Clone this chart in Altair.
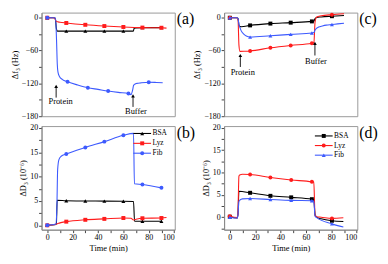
import altair as alt
import pandas as pd

FONT = "Liberation Serif"
SERIES = ["BSA", "Lyz", "Fib"]
COLORS = ["#000000", "#ff1c1c", "#3d5afe"]
SHAPES_AB = ["triangle-up", "square", "circle"]
SHAPES_CD = ["square", "circle", "triangle-up"]

# ---------- panel (a): delta f3 ----------
a_bsa_line_t = [0, 5, 6.3, 7.2, 8, 15, 30, 45, 60, 67.8, 68.6, 70, 75, 90]
a_bsa_line_v = [0, 0, -1, -20, -24.5, -24.5, -24.5, -24.5, -24.5, -24.5, -19, -18.5, -18, -18]
a_bsa_mark_t = [0, 15, 30, 45, 60, 75, 90]
a_bsa_mark_v = [0, -24.5, -24.5, -24.5, -24.5, -18, -18]
a_lyz_line_t = [0, 5, 6.3, 7.3, 10, 15, 30, 45, 60, 75, 90, 94]
a_lyz_line_v = [0, 0, -3, -7, -8.2, -9.6, -12.9, -15.2, -16.9, -18, -18.3, -19]
a_lyz_mark_t = [0, 15, 30, 45, 60, 75, 90]
a_lyz_mark_v = [0, -9.6, -12.9, -15.2, -16.9, -18, -18.3]
a_fib_line_t = [0, 5, 6.5, 7.3, 7.9, 8.5, 9.5, 12, 16, 24, 32, 40, 48, 56, 64, 66, 67.3, 68, 69, 70.6, 74, 80, 86, 91]
a_fib_line_v = [0, 0, -1, -40, -85, -100, -107, -113, -117, -123, -128, -131, -134, -136.5, -138.4, -140.5, -132, -124, -121.5, -120, -119, -118, -118.3, -118.7]
a_fib_mark_t = [0, 16, 32, 48, 64, 80]
a_fib_mark_v = [0, -117, -128, -134, -138.4, -118]
a_ann_label = ["Protein", "Buffer"]
a_ann_t = [7, 67.6]
a_ann_tip = [-125.5, -143]
a_ann_base = [-146, -163]
a_ann_text_t = [10.5, 69.9]
a_ann_text_v = [-153, -170]

# ---------- panel (c): delta f3 ----------
c_bsa_line_t = [0, 5.5, 6.5, 7.3, 9, 16, 32, 48, 64.7, 66.3, 67.2, 68.5, 72, 80.5, 90]
c_bsa_line_v = [0, 0, -1, -15, -16.5, -14, -10.7, -9, -6.7, -6.2, -1.5, 0.5, 1.5, 2.8, 4]
c_bsa_mark_t = [0, 16, 32, 48, 64.7, 80.5]
c_bsa_mark_v = [0, -14, -10.7, -9, -6.7, 2.8]
c_lyz_line_t = [0, 5.5, 6.5, 7.2, 8, 12, 16, 32, 48, 64.7, 66.3, 67.2, 68.5, 72, 80.5, 90]
c_lyz_line_v = [0, 0, -5, -50, -61.5, -61.2, -60.7, -55, -50.6, -46.7, -45, -8, 1.5, 3.5, 5.6, 7.3]
c_lyz_mark_t = [0, 16, 32, 48, 64.7, 80.5]
c_lyz_mark_v = [0, -60.7, -55, -50.6, -46.7, 5.6]
c_fib_line_t = [0, 5.5, 6.5, 7.2, 8, 9, 11, 13, 16, 32, 48, 64.7, 66.3, 67.3, 68.5, 70, 73, 76, 80.5, 85, 90]
c_fib_line_v = [0, 0, -2, -12, -18, -24, -30, -33.5, -35.4, -33, -30.4, -28, -27, -22, -19, -17, -15, -13.5, -12.4, -11.2, -10]
c_fib_mark_t = [0, 16, 32, 48, 64.7, 80.5]
c_fib_mark_v = [0, -35.4, -33, -30.4, -28, -12.4]
c_ann_label = ["Protein", "Buffer"]
c_ann_t = [8.3, 67.1]
c_ann_tip = [-69, -46.7]
c_ann_base = [-90, -69]
c_ann_text_t = [10.2, 67.9]
c_ann_text_v = [-100, -78.8]

# ---------- panel (b): delta D3 ----------
b_bsa_line_t = [0, 6, 7.2, 7.8, 15, 30, 45, 60, 68, 68.8, 75, 90]
b_bsa_line_v = [0, 0.1, 0.3, 5.15, 5.05, 5.0, 4.97, 4.95, 4.9, 0.85, 0.85, 0.85]
b_bsa_mark_t = [0, 15, 30, 45, 60, 75, 90]
b_bsa_mark_v = [0, 5.05, 5.0, 4.97, 4.95, 0.85, 0.85]
b_lyz_line_t = [0, 6, 8, 10, 15, 30, 45, 60, 66, 68, 70, 75, 90, 94]
b_lyz_line_v = [0, 0.15, 0.3, 0.5, 0.75, 1.13, 1.32, 1.5, 1.45, 1.1, 1.25, 1.45, 1.5, 1.6]
b_lyz_mark_t = [0, 15, 30, 45, 60, 75, 90]
b_lyz_mark_v = [0, 0.75, 1.13, 1.32, 1.5, 1.45, 1.5]
b_fib_line_t = [0, 6.9, 7.6, 8.2, 9.2, 11, 15, 30, 45, 60, 68, 68.7, 75, 90]
b_fib_line_v = [0, 0.25, 4, 11.5, 13.5, 14.2, 14.65, 16, 17.2, 18.5, 18.9, 8.55, 8.4, 7.7]
b_fib_mark_t = [0, 15, 30, 45, 60, 75, 90]
b_fib_mark_v = [0, 14.65, 16, 17.2, 18.5, 8.4, 7.7]

# ---------- panel (d): delta D3 ----------
d_bsa_line_t = [0, 5.8, 6.4, 7.2, 16, 32, 48.4, 64.7, 66.2, 67.2, 68.5, 72, 80.5, 89.5]
d_bsa_line_v = [0.1, -0.2, 0.5, 5.8, 5.46, 4.78, 4.44, 4.03, 3.96, 0.55, 0, -0.35, -0.8, -0.96]
d_bsa_mark_t = [0, 16, 32, 48.4, 64.7, 80.5]
d_bsa_mark_v = [0.1, 5.46, 4.78, 4.44, 4.03, -0.8]
d_lyz_line_t = [0, 5.8, 6.4, 7.2, 7.8, 10, 16, 32, 48.4, 64.7, 66.2, 67.2, 68.5, 72, 80.5, 89.5]
d_lyz_line_v = [0.2, -0.1, 1, 9.2, 9.45, 9.6, 9.56, 8.88, 8.33, 7.92, 7.85, 0.4, 0.1, 0, -0.27, -0.14]
d_lyz_mark_t = [0, 16, 32, 48.4, 64.7, 80.5]
d_lyz_mark_v = [0.2, 9.56, 8.88, 8.33, 7.92, -0.27]
d_fib_line_t = [0, 5.8, 6.4, 7.2, 8, 10, 16, 32, 48.4, 64.7, 66.2, 67.2, 68.5, 80.5, 89.5]
d_fib_line_v = [0, -0.2, 0.5, 3.5, 3.85, 4.1, 4.17, 3.96, 3.76, 3.69, 3.62, 0.2, -0.1, -1.5, -2.2]
d_fib_mark_t = [0, 16, 32, 48.4, 64.7, 80.5]
d_fib_mark_v = [0, 4.17, 3.96, 3.76, 3.69, -1.5]

# axes
x_domain = [-4.5, 100.5]
x_ticks = [0, 10, 20, 30, 40, 50, 60, 70, 80, 90, 100]
f_domain = [-180, 9.4]
f_ticks = [-180, -150, -120, -90, -60, -30, 0]
b_domain = [-0.9, 20.4]
b_ticks = [0, 2.5, 5, 7.5, 10, 12.5, 15, 17.5, 20]
d_domain = [-2.8, 20.4]
d_ticks = [-2.5, 0, 2.5, 5, 7.5, 10, 12.5, 15, 17.5, 20]
F_TITLE = "Δf₃ (Hz)"
D_TITLE = "ΔD₃ (10⁻⁶)"
X_TITLE = "Time (min)"

W, H = 135, 105


def make_panel(series, shapes, ydom, yticks, ymod, ytitle, bottom, label,
               ann=None, legend_rows=None, legend_x=None):
    xs = alt.Scale(domain=x_domain, nice=False, zero=False)
    ys = alt.Scale(domain=ydom, nice=False, zero=False)
    if bottom:
        xa = alt.Axis(values=x_ticks, title=X_TITLE,
                      labelExpr="datum.value % 20 == 0 ? datum.label : ''")
    else:
        xa = None
    ya = alt.Axis(values=yticks, title=ytitle,
                  labelExpr=f"datum.value % {ymod} == 0 ? datum.label : ''")

    def X(f):
        return alt.X(f, scale=xs, axis=xa, title=X_TITLE)

    def Y(f):
        return alt.Y(f, scale=ys, axis=ya, title=ytitle)

    layers = []
    for color, shape, (lt, lv, mt, mv) in zip(COLORS, shapes, series):
        ldf = pd.DataFrame({"t": lt, "v": lv})
        mdf = pd.DataFrame({"t": mt, "v": mv})
        layers.append(alt.Chart(ldf).mark_line(color=color, strokeWidth=1.1,
                                                interpolate="monotone", clip=True)
                      .encode(x=X("t:Q"), y=Y("v:Q")))
        layers.append(alt.Chart(mdf).mark_point(shape=shape, filled=True, size=16,
                                                 color=color, opacity=1)
                      .encode(x=X("t:Q"), y=Y("v:Q")))
    if ann is not None:
        adf = pd.DataFrame({"label": ann[0], "t": ann[1], "tip": ann[2], "base": ann[3],
                            "tt": ann[4], "tv": ann[5]})
        layers.append(alt.Chart(adf).mark_rule(color="#000", strokeWidth=0.9)
                      .encode(x=X("t:Q"), y=Y("tip:Q"), y2="base:Q"))
        layers.append(alt.Chart(adf).mark_point(shape="triangle-up", filled=True, size=14,
                                                 color="#000", opacity=1)
                      .encode(x=X("t:Q"), y=Y("tip:Q")))
        layers.append(alt.Chart(adf).mark_text(font=FONT, fontSize=8.5, color="#000",
                                                align="center", baseline="middle")
                      .encode(x=X("tt:Q"), y=Y("tv:Q"), text="label:N"))
    ldf = pd.DataFrame({"label": [label]})
    layers.append(alt.Chart(ldf).mark_text(font=FONT, fontSize=16, color="#000",
                                            align="left", baseline="top")
                  .encode(x=alt.value(W + 2), y=alt.value(-1), text="label:N"))
    inner = alt.layer(*layers)
    if legend_rows is None:
        return inner.properties(width=W, height=H)

    gdf = pd.DataFrame({"series": SERIES})
    ly = alt.Y("series:N", scale=alt.Scale(type="point", domain=SERIES,
                                           range=legend_rows, padding=0), axis=None)
    col = alt.Color("series:N", scale=alt.Scale(domain=SERIES, range=COLORS), legend=None)
    shp = alt.Shape("series:N", scale=alt.Scale(domain=SERIES, range=shapes), legend=None)
    x0, x1, xt = legend_x
    rule = alt.Chart(gdf).mark_rule(strokeWidth=1.1).encode(
        x=alt.value(x0), x2=alt.value(x1), y=ly, color=col)
    pts = alt.Chart(gdf).mark_point(filled=True, size=16, opacity=1).encode(
        x=alt.value((x0 + x1) / 2), y=ly, color=col, shape=shp)
    txt = alt.Chart(gdf).mark_text(font=FONT, fontSize=7.5, color="#000",
                                   align="left", baseline="middle").encode(
        x=alt.value(xt), y=ly, text="series:N")
    leg = alt.layer(rule, pts, txt)
    return alt.layer(inner, leg).resolve_scale(y="independent").properties(width=W, height=H)


pa = make_panel([(a_bsa_line_t, a_bsa_line_v, a_bsa_mark_t, a_bsa_mark_v),
                 (a_lyz_line_t, a_lyz_line_v, a_lyz_mark_t, a_lyz_mark_v),
                 (a_fib_line_t, a_fib_line_v, a_fib_mark_t, a_fib_mark_v)],
                SHAPES_AB, f_domain, f_ticks, 60, F_TITLE, False, "(a)",
                ann=(a_ann_label, a_ann_t, a_ann_tip, a_ann_base, a_ann_text_t, a_ann_text_v))
pc = make_panel([(c_bsa_line_t, c_bsa_line_v, c_bsa_mark_t, c_bsa_mark_v),
                 (c_lyz_line_t, c_lyz_line_v, c_lyz_mark_t, c_lyz_mark_v),
                 (c_fib_line_t, c_fib_line_v, c_fib_mark_t, c_fib_mark_v)],
                SHAPES_CD, f_domain, f_ticks, 60, F_TITLE, False, "(c)",
                ann=(c_ann_label, c_ann_t, c_ann_tip, c_ann_base, c_ann_text_t, c_ann_text_v))
pb = make_panel([(b_bsa_line_t, b_bsa_line_v, b_bsa_mark_t, b_bsa_mark_v),
                 (b_lyz_line_t, b_lyz_line_v, b_lyz_mark_t, b_lyz_mark_v),
                 (b_fib_line_t, b_fib_line_v, b_fib_mark_t, b_fib_mark_v)],
                SHAPES_AB, b_domain, b_ticks, 5, D_TITLE, True, "(b)",
                legend_rows=[7.5, 27.5], legend_x=(W - 42, W - 24, W - 22.5))
pd_ = make_panel([(d_bsa_line_t, d_bsa_line_v, d_bsa_mark_t, d_bsa_mark_v),
                  (d_lyz_line_t, d_lyz_line_v, d_lyz_mark_t, d_lyz_mark_v),
                  (d_fib_line_t, d_fib_line_v, d_fib_mark_t, d_fib_mark_v)],
                 SHAPES_CD, d_domain, d_ticks, 5, D_TITLE, True, "(d)",
                 legend_rows=[10, 29.5], legend_x=(W - 43, W - 25, W - 23.5))

chart = alt.concat(pa, pc, pb, pd_, columns=2, spacing={"row": 10, "column": 50},
                   bounds="flush").resolve_scale(
    x="independent", y="independent", color="independent", shape="independent"
).properties(padding=1).configure_axis(
    labelFont=FONT, titleFont=FONT, labelFontSize=8, titleFontSize=8.5,
    labelColor="#000", titleColor="#000", titleFontWeight="normal",
    domainColor="#888", tickColor="#444", tickSize=3, labelPadding=1,
    titlePadding=2, grid=False
).configure_view(stroke="#999", strokeWidth=1)

chart.save("out.html", embed_options={"renderer": "svg", "actions": False})
